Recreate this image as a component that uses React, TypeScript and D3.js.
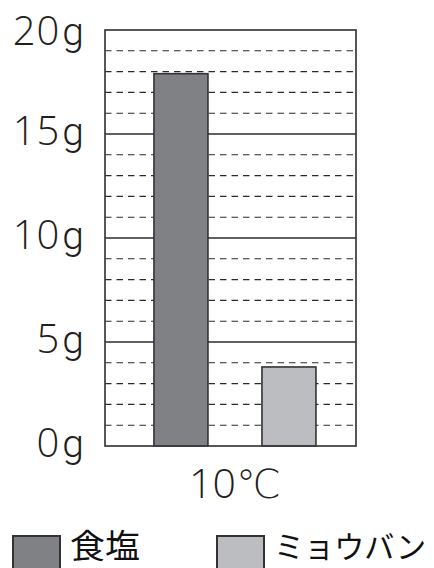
import React from "react";
import * as d3 from "d3";

const categories = ["10℃"];
const seriesNames = ["食塩", "ミョウバン"];
const seriesValues = [17.9, 3.8];
const seriesColors = ["#808184", "#bcbdc0"];
const yTicks = [0, 5, 10, 15, 20];
const yTickLabels = ["0", "5", "10", "15", "20"];
const yUnit = "g";
const minorTicks = d3.range(0, 21, 1);

const W = 434;
const H = 568;
const left = 105;
const right = 356;
const top = 30;
const bottom = 446;

export default function App() {
  const y = d3.scaleLinear().domain([0, 20]).range([bottom, top]);
  const x0 = d3
    .scaleBand<string>()
    .domain(categories)
    .range([left, right])
    .paddingInner(0)
    .paddingOuter(0.2747)
    .align(0.55);
  const x1 = d3
    .scaleBand<string>()
    .domain(seriesNames)
    .range([0, x0.bandwidth()])
    .paddingInner(0.5)
    .paddingOuter(0);

  const ink = "#2b2b2b";
  const legendX = [13, 217];
  const legendTextLen = [70, 152];
  const legendFontSize = [33, 31];
  const numFont = "'Open Sans', 'Liberation Sans', sans-serif";
  const gFont = "Roboto, Lato, 'Liberation Sans', sans-serif";

  return (
    <svg
      width={W}
      height={H}
      style={{ position: "absolute", left: 0, top: 0, background: "#fff" }}
    >
      <rect x={0} y={0} width={W} height={H} fill="#fff" />
      {/* grid lines */}
      {minorTicks.map((t) => {
        const major = t % 5 === 0;
        if (t === 0 || t === 20) return null;
        return (
          <line
            key={t}
            x1={left}
            x2={right}
            y1={y(t)}
            y2={y(t)}
            stroke={ink}
            strokeWidth={major ? 1.3 : 1.1}
            strokeDasharray={major ? undefined : "6.5 5"}
          />
        );
      })}
      {/* bars */}
      {categories.map((c) =>
        seriesNames.map((s, i) => {
          const bx = (x0(c) ?? 0) + (x1(s) ?? 0);
          const v = seriesValues[i];
          return (
            <rect
              key={c + s}
              x={bx}
              y={y(v)}
              width={x1.bandwidth()}
              height={y(0) - y(v)}
              fill={seriesColors[i]}
              stroke="#333"
              strokeWidth={1.6}
            />
          );
        })
      )}
      {/* frame */}
      <rect
        x={left}
        y={top}
        width={right - left}
        height={bottom - top}
        fill="none"
        stroke="#3a3a3a"
        strokeWidth={1.7}
      />
      {/* y tick labels */}
      {yTicks.map((t, i) => (
        <text
          key={t}
          x={85}
          y={Math.max(y(t) + 10.5, top + 15)}
          textAnchor="end"
          fontFamily={numFont}
          fontWeight={300}
          fontSize={40}
          fill="#231f20"
          letterSpacing={1}
        >
          {yTickLabels[i]}
          <tspan fontFamily={gFont} fontWeight={300} fontSize={39} dx={2}>
            {yUnit}
          </tspan>
        </text>
      ))}
      {/* x category label */}
      {categories.map((c) => (
        <text
          key={c}
          x={(x0(c) ?? 0) + x0.bandwidth() / 2}
          y={498}
          textAnchor="middle"
          fontFamily={numFont}
          fontWeight={300}
          fontSize={41}
          fill="#231f20"
        >
          {c.replace("℃", "")}
          <tspan fontFamily="'DejaVu Sans', sans-serif" fontWeight={200} fontSize={40}>
            ℃
          </tspan>
        </text>
      ))}
      {/* legend */}
      {seriesNames.map((s, i) => (
        <g key={s}>
          <rect
            x={legendX[i]}
            y={536}
            width={47}
            height={47}
            fill={seriesColors[i]}
            stroke="#333"
            strokeWidth={2}
          />
          <text
            x={legendX[i] + 57}
            y={558}
            fontFamily="'Noto Sans CJK JP', sans-serif"
            fontSize={legendFontSize[i]}
            fill="#111"
            textLength={legendTextLen[i]}
            lengthAdjust="spacingAndGlyphs"
          >
            {s}
          </text>
        </g>
      ))}
    </svg>
  );
}
